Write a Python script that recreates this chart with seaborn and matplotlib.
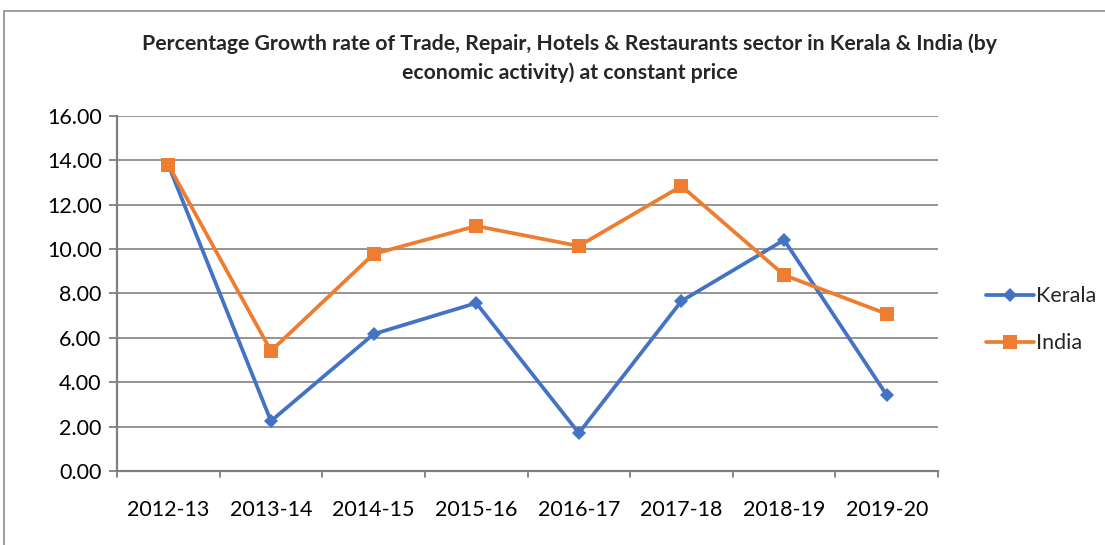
import matplotlib
matplotlib.use("Agg")
import matplotlib.pyplot as plt
import matplotlib.patches as mpatches
import seaborn as sns
import pandas as pd

years = ["2012-13", "2013-14", "2014-15", "2015-16", "2016-17", "2017-18", "2018-19", "2019-20"]
kerala = [13.79, 2.25, 6.17, 7.57, 1.71, 7.66, 10.41, 3.42]
india = [13.80, 5.41, 9.78, 11.04, 10.14, 12.84, 8.83, 7.08]
y_ticks = [0, 2, 4, 6, 8, 10, 12, 14, 16]

sns.set_theme(style="white")
plt.rcParams["font.family"] = ["Lato", "DejaVu Sans"]

df = pd.concat([
    pd.DataFrame({"Year": years, "Growth": kerala, "Region": "Kerala"}),
    pd.DataFrame({"Year": years, "Growth": india, "Region": "India"}),
])

fig = plt.figure(figsize=(11.05, 5.45), dpi=100)
ax = fig.add_axes([0.1059, 0.1358, 0.7430, 0.6514])

palette = {"Kerala": "#4472C4", "India": "#ED7D31"}
markers = {"Kerala": "D", "India": "s"}
sizes = {"Kerala": 7.5, "India": 9.5}
for region in ["Kerala", "India"]:
    sub = df[df["Region"] == region]
    sns.lineplot(data=sub, x="Year", y="Growth", ax=ax, color=palette[region],
                 marker=markers[region], markersize=sizes[region],
                 markeredgewidth=0, linewidth=2.7, label=region, sort=False)

ax.set_xlim(-0.5, len(years) - 0.5)
ax.set_ylim(0, 16)
ax.set_yticks(y_ticks)
ax.set_yticklabels([f"{v:.2f}" for v in y_ticks], fontsize=15.5, color="#000000")
ax.set_xticks(range(len(years)))
ax.set_xticklabels(years, fontsize=15.5, color="#000000")
ax.set_xlabel("")
ax.set_ylabel("")

# horizontal gridlines
ax.yaxis.grid(True, color="#8c8c8c", linewidth=1.3)
ax.xaxis.grid(False)
ax.set_axisbelow(True)

for side in ["top", "right"]:
    ax.spines[side].set_visible(False)
for side in ["left", "bottom"]:
    ax.spines[side].set_color("#7f7f7f")
    ax.spines[side].set_linewidth(1.6)

# y ticks point outward; x ticks sit on category boundaries
ax.tick_params(axis="y", length=6, width=1.3, color="#7f7f7f", pad=5, direction="out", left=True)
ax.tick_params(axis="x", length=0, pad=21)
for b in range(len(years) + 1):
    ax.plot([b - 0.5, b - 0.5], [0, -0.28], color="#7f7f7f", linewidth=1.3,
            clip_on=False, transform=ax.transData)

ax.legend_.remove()
handles, labels = ax.get_legend_handles_labels()
fig.legend(handles, labels, loc="center left", bbox_to_anchor=(0.875, 0.413),
           frameon=False, fontsize=15.5, handlelength=2.2, handletextpad=0.1,
           labelspacing=1.25)

fig.suptitle("Percentage Growth rate of Trade, Repair, Hotels & Restaurants sector in Kerala & India (by\n"
             "economic activity) at constant price",
             x=0.5155, y=0.939, fontsize=15.3, fontweight="bold", linespacing=1.5)

# chart area border
fig.patches.append(mpatches.Rectangle((0.0036, -0.05), 1.1, 1.0298, transform=fig.transFigure,
                                      fill=False, edgecolor="#8c8c8c", linewidth=1.2))

fig.savefig("out.png", dpi=100)
